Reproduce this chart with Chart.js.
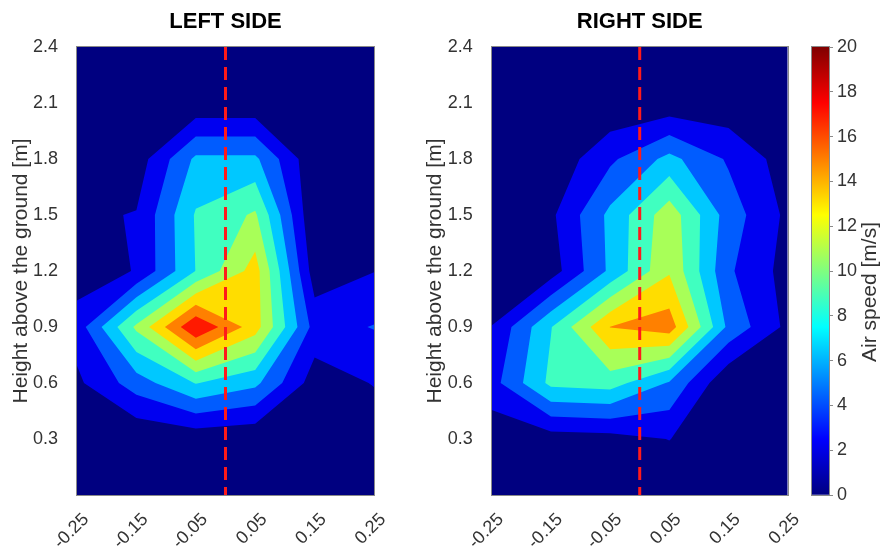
<!DOCTYPE html>
<html>
<head>
<meta charset="utf-8">
<title>Air speed contours</title>
<script src="https://cdn.jsdelivr.net/npm/chart.js@4.4.1/dist/chart.umd.min.js"></script>
<style>
  body { margin: 0; background: #fff; }
  #wrap { position: relative; width: 895px; height: 556px; overflow: hidden; }
  canvas { position: absolute; top: 0; }
</style>
</head>
<body>
<div id="wrap">
  <canvas id="leftChart" width="440" height="556" style="left:0"></canvas>
  <canvas id="rightChart" width="395" height="556" style="left:414px"></canvas>
  <canvas id="barChart" width="115" height="556" style="left:780px"></canvas>
</div>
<script>
"use strict";

// measurement grid
const xPositions = [-0.25, -0.15, -0.05, 0.05, 0.15, 0.25];
const heights = [0, 0.3, 0.6, 0.9, 1.2, 1.5, 1.8, 2.1, 2.4];

// axis ticks
const xTicks = [-0.25, -0.15, -0.05, 0.05, 0.15, 0.25];
const yTicks = [0.3, 0.6, 0.9, 1.2, 1.5, 1.8, 2.1, 2.4];
const speedTicks = [0, 2, 4, 6, 8, 10, 12, 14, 16, 18, 20];

// contour levels [m/s]
const levels = [0, 2, 4, 6, 8, 10, 12, 14, 16, 18];

// centre line of the vehicle
const centreX = 0;

// air speed [m/s], one row per height (bottom -> top), columns follow xPositions
const leftSpeed = [
  [0.2, 0.2, 0.3, 0.3, 0.2, 0.2],
  [0.5, 0.2, 0.6, 0.3, 0.3, 0.7],
  [1.6, 5.0, 8.1, 6.5, 1.0, 2.1],
  [2.9, 10.4, 17.9, 12.9, 3.2, 4.1],
  [1.0, 2.1, 8.05, 12.9, 0.92, 1.95],
  [1.65, 2.1, 8.2, 10.3, 0.1, 0.1],
  [0.3, 0.9, 6.4, 6.4, 0.37, 0.1],
  [0.2, 0.3, 0.4, 0.4, 0.2, 0.1],
  [0.1, 0.1, 0.1, 0.1, 0.1, 0.1]
];

const rightSpeed = [
  [0.2, 0.2, 0.2, 0.3, 0.2, 0.2],
  [0.7, 1.0, 1.2, 2.05, 0.3, 0.2],
  [3.2, 8.5, 8.9, 5.8, 0.2, 0.2],
  [2.05, 7.9, 14.05, 15.1, 5.5, 1.5],
  [0.3, 1.0, 6.4, 11.77, 4.31, 1.23],
  [0.2, 1.6, 6.5, 11.2, 5.05, 1.55],
  [0.1, 0.5, 3.6, 6.6, 3.74, 1.0],
  [0.1, 0.2, 0.3, 0.55, 0.6, 0.2],
  [0.1, 0.1, 0.1, 0.1, 0.1, 0.1]
];

// fill colour of each band, from the lowest level up
const bandColours = ['#000080', '#0000f0', '#005cff', '#00c8ff', '#40ffc0',
  '#a8ff58', '#ffdd00', '#ff8000', '#ff1a00', '#800000'];

const textColour = '#333333';
const tickFont = { family: '"Liberation Sans", Arial, sans-serif', size: 18 };
const labelFont = { family: '"Liberation Sans", Arial, sans-serif', size: 21 };

// matlab style jet colormap (colour bar)
function jet(t) {
  const c = v => Math.round(255 * Math.min(1, Math.max(0, v)));
  const r = Math.min(4 * t - 1.5, -4 * t + 4.5);
  const g = Math.min(4 * t - 0.5, -4 * t + 3.5);
  const b = Math.min(4 * t + 0.5, -4 * t + 2.5);
  return `rgb(${c(r)}, ${c(g)}, ${c(b)})`;
}

// filled contours, one path per level, clipped cell by cell
function contourLayer(speed) {
  return {
    id: 'contourLayer',
    beforeDatasetsDraw(chart) {
      const { ctx, chartArea: a, scales: { x, y } } = chart;
      ctx.save();
      ctx.beginPath();
      ctx.rect(a.left, a.top, a.width, a.height);
      ctx.clip();
      levels.forEach((lv, k) => {
        ctx.beginPath();
        for (let j = 0; j < heights.length - 1; j++) {
          for (let i = 0; i < xPositions.length - 1; i++) {
            const corners = [
              [xPositions[i], heights[j], speed[j][i]],
              [xPositions[i + 1], heights[j], speed[j][i + 1]],
              [xPositions[i + 1], heights[j + 1], speed[j + 1][i + 1]],
              [xPositions[i], heights[j + 1], speed[j + 1][i]]
            ];
            const poly = [];
            for (let c = 0; c < 4; c++) {
              const p = corners[c], q = corners[(c + 1) % 4];
              const pin = p[2] >= lv, qin = q[2] >= lv;
              if (pin) poly.push(p);
              if (pin !== qin) {
                const t = (lv - p[2]) / (q[2] - p[2]);
                poly.push([p[0] + t * (q[0] - p[0]), p[1] + t * (q[1] - p[1])]);
              }
            }
            if (poly.length < 3) continue;
            poly.forEach((pt, n) => {
              const px = x.getPixelForValue(pt[0]);
              const py = y.getPixelForValue(pt[1]);
              if (n) ctx.lineTo(px, py); else ctx.moveTo(px, py);
            });
            ctx.closePath();
          }
        }
        ctx.fillStyle = bandColours[k];
        ctx.fill();
      });
      ctx.restore();
    }
  };
}

// thin grey box round the plot area
const frame = {
  id: 'frame',
  afterDraw(chart) {
    const { ctx, chartArea: a } = chart;
    ctx.save();
    ctx.strokeStyle = '#8a8a8a';
    ctx.lineWidth = 1;
    ctx.strokeRect(Math.round(a.left) - 0.5, Math.round(a.top) - 0.5,
      Math.round(a.width) + 1, Math.round(a.height) + 1);
    ctx.restore();
  }
};

function panelConfig(title, speed, yAxisWidth, rightPad) {
  return {
    type: 'scatter',
    data: {
      datasets: [{
        data: [{ x: centreX, y: heights[heights.length - 1] }, { x: centreX, y: heights[0] }],
        showLine: true,
        borderColor: '#ff1a1a',
        borderWidth: 3,
        borderDash: [13, 7],
        pointRadius: 0
      }]
    },
    options: {
      responsive: false,
      animation: false,
      layout: { padding: { left: 0, right: rightPad, top: 0, bottom: 0 } },
      plugins: {
        legend: { display: false },
        tooltip: { enabled: false },
        title: {
          display: true,
          text: title,
          fullSize: false,
          color: '#000',
          font: { family: '"Liberation Sans", Arial, sans-serif', size: 22, weight: 'bold' },
          padding: { top: 9, bottom: 11.6 }
        }
      },
      scales: {
        x: {
          type: 'linear',
          min: xTicks[0],
          max: xTicks[xTicks.length - 1],
          afterBuildTicks: s => { s.ticks = xTicks.map(v => ({ value: v })); },
          afterFit: s => { s.height = 61; },
          grid: { display: false },
          border: { display: false },
          ticks: {
            color: textColour,
            font: tickFont,
            minRotation: 45,
            maxRotation: 45,
            padding: 6,
            labelOffset: 9,
            callback: v => v.toFixed(2)
          }
        },
        y: {
          type: 'linear',
          min: heights[0],
          max: heights[heights.length - 1],
          afterBuildTicks: s => { s.ticks = yTicks.map(v => ({ value: v })); },
          afterFit: s => { s.width = yAxisWidth; },
          grid: { display: false },
          border: { display: false },
          ticks: { color: textColour, font: tickFont, padding: 11, callback: v => v.toFixed(1) },
          title: {
            display: true,
            text: 'Height above the ground [m]',
            color: textColour,
            font: labelFont,
            padding: { top: 9, bottom: 0 }
          }
        }
      }
    },
    plugins: [contourLayer(speed), frame]
  };
}

new Chart(document.getElementById('leftChart'), panelConfig('LEFT SIDE', leftSpeed, 77, 66));
new Chart(document.getElementById('rightChart'), panelConfig('RIGHT SIDE', rightSpeed, 77.7, 21));

// colour bar
const barLabel = {
  id: 'barLabel',
  afterDraw(chart) {
    const { ctx, chartArea: a } = chart;
    ctx.save();
    ctx.translate(a.right + 41, (a.top + a.bottom) / 2 + 21);
    ctx.rotate(-Math.PI / 2);
    ctx.fillStyle = textColour;
    ctx.font = `${labelFont.size}px ${labelFont.family}`;
    ctx.textAlign = 'center';
    ctx.textBaseline = 'middle';
    ctx.fillText('Air speed [m/s]', 0, 0);
    ctx.restore();
  }
};

new Chart(document.getElementById('barChart'), {
  type: 'bar',
  data: {
    labels: [''],
    datasets: [{
      data: [[speedTicks[0], speedTicks[speedTicks.length - 1]]],
      barPercentage: 1,
      categoryPercentage: 1,
      borderWidth: 0,
      backgroundColor: ctx => {
        const a = ctx.chart.chartArea;
        if (!a) return jet(0.5);
        const grad = ctx.chart.ctx.createLinearGradient(0, a.bottom, 0, a.top);
        [0, 0.125, 0.375, 0.625, 0.875, 1].forEach(t => grad.addColorStop(t, jet(t)));
        return grad;
      }
    }]
  },
  options: {
    responsive: false,
    animation: false,
    layout: { padding: { left: 32, right: 0, top: 47, bottom: 61 } },
    plugins: { legend: { display: false }, tooltip: { enabled: false } },
    scales: {
      x: { display: false },
      y: {
        position: 'right',
        min: speedTicks[0],
        max: speedTicks[speedTicks.length - 1],
        afterBuildTicks: s => { s.ticks = speedTicks.map(v => ({ value: v })); },
        afterFit: s => { s.width = 66; },
        grid: { drawOnChartArea: false, tickLength: 4, color: '#8a8a8a' },
        border: { display: false },
        ticks: { color: textColour, font: tickFont, padding: 4 }
      }
    }
  },
  plugins: [frame, barLabel]
});
</script>
</body>
</html>
